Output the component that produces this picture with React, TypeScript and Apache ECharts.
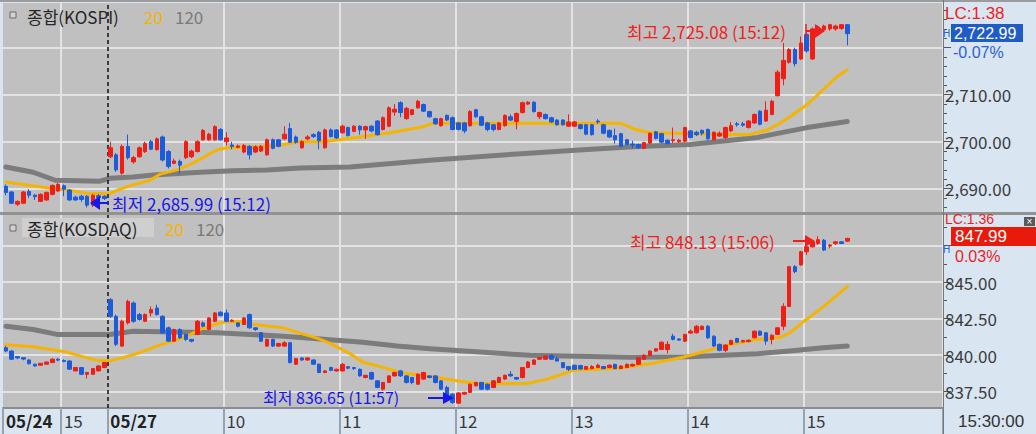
import React, { useEffect, useRef } from 'react';
import * as echarts from 'echarts';

const FONT = '"Noto Sans CJK KR", "Noto Sans", sans-serif';
const NUM_FONT = '"Liberation Sans", Arial, sans-serif';
const UP = '#f01e14';
const DOWN = '#1c5cdc';
const MA20_COLOR = '#f5b400';
const MA120_COLOR = '#7c7c7c';

// ---- categories (3-minute candles) ----
const DAYS = ['05/24', '05/27'];
const SESSION_START = ['14:30', '09:00'];
const EMPTY_SLOTS = 16;

function sessionTimes(start: string): string[] {
  const [h, m] = start.split(':').map(Number);
  const out: string[] = [];
  for (let t = h * 60 + m; t <= 15 * 60 + 18; t += 3) {
    out.push(`${String(Math.floor(t / 60)).padStart(2, '0')}:${String(t % 60).padStart(2, '0')}`);
  }
  out.push('15:30');
  return out;
}

// ---- KOSPI 3-min candles [open, close, low, high] ----
const KOSPI_OHLC: number[][] = [
  // 05/24
  [2690.5, 2689.2, 2688.6, 2690.9], [2689.3, 2686.9, 2686.7, 2689.5], [2686.7, 2687.3, 2686.3, 2687.5],
  [2686.9, 2689.3, 2686.8, 2689.5], [2689.4, 2688.6, 2688.0, 2689.9], [2688.6, 2688.3, 2687.6, 2688.9],
  [2687.3, 2688.8, 2687.2, 2689.0], [2687.6, 2689.2, 2687.4, 2689.4], [2688.8, 2690.7, 2688.6, 2690.9],
  [2689.5, 2690.9, 2689.3, 2691.2], [2690.6, 2689.9, 2688.4, 2690.9], [2689.7, 2687.6, 2687.4, 2689.9],
  [2688.2, 2687.6, 2687.4, 2688.5], [2688.4, 2687.7, 2687.2, 2688.7], [2688.4, 2686.5, 2685.99, 2688.6],
  [2686.5, 2688.6, 2686.1, 2688.9], [2688.5, 2688.1, 2687.9, 2688.9], [2688.4, 2687.9, 2687.6, 2688.6],
  // 05/27
  [2696.8, 2698.7, 2696.5, 2700.0], [2697.2, 2694.0, 2693.6, 2697.6], [2693.3, 2699.0, 2693.0, 2699.4],
  [2699.0, 2696.6, 2696.2, 2701.5], [2695.7, 2696.6, 2695.3, 2697.0], [2696.8, 2698.7, 2696.6, 2699.0],
  [2697.9, 2699.6, 2697.6, 2700.0], [2700.0, 2698.4, 2698.2, 2700.4], [2698.3, 2700.6, 2698.1, 2700.9],
  [2701.0, 2696.1, 2695.8, 2701.3],
  [2697.9, 2694.7, 2694.3, 2698.2], [2695.4, 2695.9, 2695.2, 2696.4], [2695.8, 2695.0, 2693.2, 2696.2],
  [2696.6, 2700.0, 2696.3, 2700.3], [2696.8, 2698.0, 2696.5, 2698.3], [2697.9, 2700.0, 2697.7, 2700.3],
  [2700.4, 2702.4, 2700.2, 2702.7], [2700.4, 2701.6, 2700.2, 2701.9], [2700.4, 2703.2, 2700.2, 2703.5],
  [2702.6, 2700.4, 2700.2, 2702.9],
  [2700.0, 2700.8, 2699.2, 2702.0], [2699.3, 2699.0, 2698.4, 2700.0], [2698.8, 2699.1, 2698.6, 2699.4],
  [2697.8, 2699.2, 2697.5, 2699.5], [2699.0, 2697.2, 2696.2, 2699.3], [2697.8, 2698.9, 2697.6, 2699.2],
  [2698.0, 2699.0, 2697.8, 2699.3], [2697.2, 2700.4, 2697.0, 2700.7], [2700.4, 2698.6, 2698.4, 2700.7],
  [2700.4, 2699.0, 2698.8, 2700.6],
  [2700.6, 2701.6, 2700.4, 2703.3], [2702.8, 2699.9, 2699.7, 2704.0], [2701.0, 2699.9, 2699.6, 2701.3],
  [2698.7, 2700.0, 2698.5, 2700.3], [2700.6, 2701.0, 2700.3, 2701.4], [2701.5, 2701.1, 2700.8, 2701.8],
  [2702.0, 2700.2, 2698.4, 2702.3], [2698.7, 2702.5, 2698.5, 2702.8], [2702.5, 2701.1, 2700.9, 2702.8],
  [2702.5, 2700.8, 2700.6, 2702.7],
  [2701.9, 2703.3, 2701.7, 2703.6], [2703.0, 2701.3, 2701.1, 2703.2], [2702.2, 2703.3, 2702.0, 2703.5],
  [2703.3, 2702.5, 2701.5, 2703.5], [2702.5, 2703.2, 2700.6, 2703.4], [2703.3, 2702.3, 2702.0, 2703.5],
  [2704.4, 2701.5, 2701.3, 2704.6], [2702.6, 2705.1, 2702.4, 2705.4], [2703.3, 2707.2, 2703.1, 2707.5],
  [2706.3, 2706.9, 2705.5, 2708.0],
  [2708.3, 2706.2, 2705.2, 2708.6], [2704.9, 2707.1, 2704.7, 2707.4], [2705.8, 2706.8, 2705.6, 2707.0],
  [2707.2, 2708.6, 2707.0, 2708.9], [2707.9, 2706.5, 2706.3, 2708.1], [2706.4, 2705.3, 2705.1, 2706.6],
  [2704.9, 2703.8, 2703.6, 2705.1], [2703.4, 2704.9, 2703.2, 2705.1], [2705.6, 2704.6, 2704.4, 2705.8],
  [2705.1, 2702.6, 2702.4, 2705.4],
  [2704.0, 2702.6, 2702.4, 2704.2], [2704.0, 2702.3, 2701.8, 2704.2], [2703.4, 2706.4, 2703.2, 2706.7],
  [2706.8, 2705.3, 2705.1, 2707.0], [2705.3, 2703.5, 2703.3, 2705.5], [2704.0, 2702.6, 2702.2, 2704.2],
  [2703.6, 2702.6, 2702.2, 2703.8], [2702.6, 2704.0, 2702.4, 2704.2], [2703.4, 2705.6, 2703.2, 2705.8],
  [2705.3, 2704.6, 2704.4, 2705.8],
  [2704.3, 2706.0, 2702.6, 2706.2], [2706.2, 2708.3, 2706.0, 2708.5], [2708.0, 2708.4, 2707.8, 2708.6],
  [2708.4, 2706.4, 2706.2, 2708.6], [2705.3, 2706.2, 2704.8, 2706.4], [2705.8, 2704.9, 2704.7, 2706.0],
  [2705.1, 2704.2, 2704.0, 2705.3], [2704.6, 2703.6, 2703.4, 2704.8], [2704.6, 2703.6, 2703.4, 2704.8],
  [2703.3, 2704.2, 2703.1, 2705.8],
  [2703.3, 2704.2, 2703.1, 2704.4], [2703.6, 2702.8, 2702.6, 2703.8], [2703.6, 2701.6, 2701.4, 2703.8],
  [2703.6, 2701.5, 2701.3, 2703.8], [2704.4, 2704.2, 2703.8, 2704.8], [2703.6, 2701.8, 2701.6, 2703.8],
  [2702.4, 2701.0, 2700.8, 2702.6], [2701.3, 2700.4, 2699.6, 2702.8], [2701.7, 2699.0, 2698.8, 2701.9],
  [2700.4, 2699.4, 2699.2, 2700.6],
  [2699.5, 2699.3, 2698.6, 2700.2], [2699.4, 2698.7, 2698.5, 2699.6], [2698.6, 2699.8, 2698.4, 2700.0],
  [2699.7, 2701.8, 2699.5, 2702.0], [2702.1, 2700.7, 2700.5, 2702.3], [2701.7, 2699.9, 2699.7, 2701.9],
  [2700.3, 2699.6, 2699.4, 2700.5], [2700.2, 2700.4, 2699.7, 2703.0], [2700.0, 2700.3, 2699.8, 2700.6],
  [2700.1, 2703.0, 2699.9, 2703.2],
  [2702.3, 2700.9, 2700.7, 2702.5], [2702.0, 2701.5, 2701.2, 2702.3], [2702.4, 2701.8, 2701.3, 2702.6],
  [2702.6, 2700.6, 2700.4, 2702.8], [2700.4, 2702.0, 2700.2, 2702.2], [2701.2, 2701.8, 2701.0, 2702.2],
  [2700.9, 2703.0, 2700.6, 2703.2], [2702.3, 2703.4, 2702.1, 2704.2], [2703.8, 2703.6, 2703.2, 2704.2],
  [2703.8, 2703.5, 2703.2, 2704.2],
  [2703.0, 2704.4, 2702.8, 2704.6], [2704.0, 2705.8, 2703.8, 2706.0], [2706.5, 2703.7, 2703.5, 2706.7],
  [2704.4, 2706.7, 2704.2, 2708.6], [2705.8, 2708.6, 2705.6, 2708.9], [2709.8, 2714.8, 2709.6, 2715.2],
  [2713.4, 2717.3, 2712.0, 2721.0], [2716.9, 2719.6, 2716.6, 2719.9], [2719.6, 2716.6, 2716.0, 2720.0],
  [2717.6, 2721.0, 2717.4, 2722.4],
  [2722.8, 2719.3, 2719.0, 2723.2], [2717.6, 2724.0, 2717.4, 2724.3], [2723.8, 2724.4, 2723.0, 2724.7],
  [2723.8, 2724.6, 2723.4, 2724.9], [2724.0, 2724.9, 2723.6, 2725.08], [2724.0, 2724.6, 2723.6, 2724.9],
  [2724.1, 2724.9, 2723.8, 2725.0], [2724.9, 2722.99, 2720.5, 2725.0],
];

// ---- KOSDAQ 3-min candles [open, close, low, high] ----
const KOSDAQ_OHLC: number[][] = [
  // 05/24
  [840.50, 840.27, 840.20, 840.62], [840.27, 839.71, 839.65, 840.35], [839.89, 839.80, 839.71, 839.92],
  [839.82, 839.72, 839.64, 839.85], [839.66, 839.40, 839.35, 839.70], [839.37, 839.25, 839.20, 839.40],
  [839.30, 839.43, 839.28, 839.45], [839.37, 839.52, 839.35, 839.55], [839.48, 839.71, 839.45, 839.78],
  [839.71, 839.65, 839.58, 839.78], [839.62, 839.56, 839.50, 839.70], [839.59, 839.03, 838.98, 839.63],
  [838.91, 839.14, 838.88, 839.18], [839.14, 838.68, 838.62, 839.18], [838.68, 838.80, 838.39, 838.84],
  [838.68, 839.07, 838.64, 839.10], [838.91, 839.25, 838.88, 839.30], [839.14, 839.48, 839.10, 839.52],
  // 05/27
  [843.79, 842.65, 842.54, 843.90], [842.65, 840.73, 840.61, 842.77], [840.61, 842.31, 840.55, 842.43],
  [842.20, 843.67, 842.09, 843.79], [843.56, 842.31, 842.20, 843.67], [842.77, 842.43, 842.36, 842.88],
  [842.31, 842.77, 842.25, 842.85], [842.88, 843.11, 842.65, 843.33], [843.22, 842.77, 842.70, 843.45],
  [842.65, 841.52, 841.45, 842.72],
  [841.86, 840.95, 840.90, 841.95], [840.95, 841.75, 840.90, 841.80], [841.75, 841.18, 841.10, 841.82],
  [841.41, 841.07, 840.95, 841.45], [841.07, 840.95, 840.86, 841.10], [841.41, 842.31, 841.35, 842.40],
  [842.20, 841.97, 841.90, 842.31], [841.75, 842.54, 841.70, 842.60], [842.31, 842.88, 842.25, 842.95],
  [842.93, 842.70, 842.65, 843.00],
  [842.88, 842.31, 842.25, 843.11], [842.31, 842.38, 842.25, 842.45], [842.20, 841.97, 841.90, 842.25],
  [842.09, 842.54, 842.05, 842.60], [842.77, 841.86, 841.80, 842.85], [841.86, 841.75, 841.65, 841.90],
  [841.52, 840.95, 840.90, 841.58], [840.61, 841.07, 840.55, 841.12], [841.07, 840.61, 840.55, 841.12],
  [840.61, 840.79, 840.55, 840.84],
  [840.61, 840.84, 840.55, 840.95], [840.84, 839.48, 839.42, 840.90], [839.37, 839.75, 839.32, 839.80],
  [839.80, 839.66, 839.60, 839.84], [839.66, 839.80, 839.60, 839.86], [839.66, 839.37, 839.32, 839.70],
  [839.37, 838.80, 838.75, 839.42], [838.80, 838.91, 838.75, 838.96], [839.14, 838.95, 838.90, 839.20],
  [838.91, 839.02, 838.86, 839.06],
  [838.91, 839.36, 838.86, 839.45], [839.20, 839.10, 839.02, 839.22], [839.14, 839.07, 838.98, 839.18],
  [839.02, 838.57, 838.52, 839.07], [838.46, 838.61, 838.40, 838.65], [838.80, 838.35, 838.30, 838.85],
  [838.23, 837.78, 837.72, 838.28], [837.66, 838.12, 837.55, 838.16], [838.12, 838.57, 838.08, 838.62],
  [838.57, 838.80, 838.52, 838.85],
  [838.91, 838.57, 838.50, 838.98], [838.57, 838.12, 838.05, 838.62], [838.46, 838.12, 838.00, 838.50],
  [838.00, 838.68, 837.95, 838.75], [838.35, 838.80, 838.30, 838.85], [838.57, 838.46, 838.40, 838.62],
  [838.57, 838.12, 838.05, 838.62], [838.23, 837.66, 837.60, 838.28], [837.78, 837.21, 837.15, 837.89],
  [837.32, 836.75, 836.65, 837.40],
  [836.70, 837.40, 836.66, 837.45], [837.32, 837.44, 837.28, 837.48], [837.44, 838.00, 837.40, 838.05],
  [837.89, 838.12, 837.85, 838.16], [838.12, 837.66, 837.60, 838.16], [838.00, 837.66, 837.58, 838.05],
  [837.78, 838.23, 837.72, 838.28], [838.12, 838.46, 838.08, 838.52], [838.35, 838.61, 838.30, 838.66],
  [838.68, 838.57, 838.50, 838.90],
  [838.46, 838.35, 838.30, 838.50], [838.46, 839.14, 838.40, 839.18], [839.14, 839.52, 839.10, 839.58],
  [839.36, 839.66, 839.32, 839.70], [839.71, 839.82, 839.68, 839.86], [839.71, 839.93, 839.68, 839.98],
  [839.98, 839.71, 839.66, 840.02], [839.75, 839.59, 839.55, 839.90], [839.48, 839.14, 839.10, 839.52],
  [839.21, 839.02, 838.90, 839.25],
  [839.30, 839.02, 838.98, 839.35], [839.28, 839.04, 838.98, 839.33], [839.02, 839.21, 838.98, 839.25],
  [839.07, 839.21, 839.02, 839.30], [839.14, 839.30, 839.10, 839.40], [839.21, 839.07, 839.02, 839.25],
  [839.14, 839.30, 839.10, 839.35], [839.36, 839.07, 839.02, 839.40], [839.07, 839.25, 839.02, 839.30],
  [839.14, 839.36, 839.10, 839.42],
  [839.25, 839.36, 839.20, 839.40], [839.36, 839.82, 839.32, 839.86], [839.71, 839.98, 839.66, 840.05],
  [839.98, 840.27, 839.94, 840.32], [840.27, 840.43, 840.22, 840.48], [840.38, 840.88, 840.34, 840.92],
  [840.38, 840.73, 840.10, 840.95], [841.29, 841.07, 841.00, 841.45], [841.10, 841.02, 840.98, 841.14],
  [840.95, 841.41, 840.90, 841.45],
  [841.50, 841.63, 841.45, 841.75], [841.52, 841.97, 841.48, 842.05], [841.75, 841.97, 841.70, 842.02],
  [841.97, 841.18, 841.10, 842.05], [841.29, 840.61, 840.55, 841.35], [840.73, 840.32, 840.25, 840.78],
  [840.32, 840.68, 840.20, 840.73], [840.73, 841.00, 840.68, 841.05], [841.13, 840.88, 840.84, 841.18],
  [840.90, 840.99, 840.85, 841.05],
  [840.92, 841.01, 840.87, 841.06], [841.18, 841.63, 841.14, 841.68], [841.63, 841.36, 841.32, 841.68],
  [841.52, 840.95, 840.70, 841.57], [841.07, 841.36, 840.73, 841.40], [841.41, 841.86, 841.36, 841.92],
  [841.97, 843.33, 841.70, 843.55], [843.33, 846.05, 843.28, 846.10], [846.05, 845.71, 845.60, 846.17],
  [846.17, 847.07, 846.12, 847.12],
  [847.07, 847.41, 846.85, 847.53], [847.41, 847.75, 847.35, 847.86], [847.64, 847.90, 847.55, 848.13],
  [847.86, 847.19, 847.12, 847.95], [847.46, 847.53, 847.30, 847.60], [847.64, 847.75, 847.53, 847.80],
  [847.75, 847.64, 847.60, 847.80], [847.80, 847.99, 847.75, 848.02],
];

// ---- moving averages, read at [candle index, value] ----
const KOSPI_MA20: number[][] = [
  [0, 2691.4], [2.4, 2691.0], [7.6, 2690.1], [10.5, 2689.7], [14, 2689.0], [18, 2689.0], [19.7, 2689.9],
  [21.9, 2690.8], [24.8, 2691.8], [26.6, 2693.1], [29.5, 2694.0], [31.7, 2695.1], [34, 2696.6],
  [36.4, 2698.3], [38.1, 2698.7], [44.3, 2698.9], [47.8, 2699.4], [50.7, 2700.0], [54.7, 2700.0],
  [60.5, 2700.9], [66.2, 2701.9], [71.9, 2703.2], [73.5, 2703.9], [106, 2703.9], [108.5, 2702.6],
  [111, 2701.9], [128, 2701.5], [131.2, 2702.5], [133.4, 2703.9], [135.1, 2705.3], [138.1, 2707.9],
  [140.8, 2711.0], [143.2, 2713.8], [145, 2715.3],
];
const KOSPI_MA120: number[][] = [
  [0, 2694.6], [4.7, 2693.5], [8.5, 2691.8], [16.2, 2691.6], [17.9, 2692.2], [21.9, 2692.5],
  [25.4, 2692.9], [33.5, 2693.5], [39.1, 2693.8], [45, 2694.0], [50.7, 2694.4], [59.3, 2694.6],
  [73.6, 2696.1], [88.1, 2697.4], [99.5, 2698.3], [108.1, 2698.9], [117.9, 2699.4], [129.5, 2700.9],
  [138.1, 2703.0], [145, 2704.3],
];
const KOSDAQ_MA20: number[][] = [
  [0, 840.7], [4.7, 840.57], [10.5, 840.2], [14, 839.8], [16.2, 839.6], [17.9, 839.6], [20.2, 839.82],
  [23.1, 840.16], [26, 840.61], [28.8, 840.95], [31.2, 841.29], [33.5, 841.75], [36.4, 842.15],
  [38.3, 842.3], [40.3, 842.3], [42.6, 842.1], [47.8, 841.86], [50.7, 841.5], [53.6, 841.16],
  [55.9, 840.8], [59.3, 840.1], [61.5, 839.5], [65, 839.15], [67.9, 838.8], [70.9, 838.65],
  [76, 838.35], [78.3, 838.2], [81.2, 838.05], [89.8, 838.05], [93.3, 838.35], [96, 838.7],
  [97.7, 838.95], [105.3, 839.1], [111, 839.4], [116.7, 839.85], [119.6, 840.15], [123.6, 840.61],
  [129.5, 841.07], [133.4, 841.2], [135.1, 841.52], [137.7, 842.35], [140.8, 843.28], [145, 844.69],
];
const KOSDAQ_MA120: number[][] = [
  [0, 841.97], [4.7, 841.75], [8.8, 841.41], [17.9, 841.41], [21.9, 841.63], [36.4, 841.52],
  [42.1, 841.41], [47.8, 841.29], [53.6, 841.11], [61.5, 840.88], [67.4, 840.61], [73.1, 840.43],
  [81.7, 840.2], [90.3, 839.98], [96, 839.93], [107.6, 839.85], [117.9, 839.88], [129.5, 840.09],
  [135.1, 840.27], [140.8, 840.5], [145, 840.61],
];

// ---- price axes ----
const KOSPI_RANGE = [2685.04, 2729.51];
const KOSDAQ_RANGE = [836.37, 849.59];
const KOSPI_GRID_TICKS = [2690, 2700, 2710, 2720];
const KOSPI_LABEL_TICKS = [2690, 2700, 2710];
const KOSPI_MINOR_TICKS = [2686, 2688, 2692, 2694, 2696, 2698, 2702, 2704, 2706, 2708, 2712, 2714, 2716, 2718, 2722, 2724, 2726, 2728];
const KOSDAQ_GRID_TICKS = [837.5, 840, 842.5, 845, 847.5];
const KOSDAQ_LABEL_TICKS = [837.5, 840, 842.5, 845];
const KOSDAQ_MINOR_TICKS = [838.75, 841.25, 843.75, 846.25, 848.75];

// ---- status texts ----
const KOSPI_LC = 'LC:1.38';
const KOSPI_CHANGE = '-0.07%';
const KOSDAQ_LC = 'LC:1.36';
const KOSDAQ_CHANGE = '0.03%';
const LAST_TIME = '15:30:00';

const fmt = (v: number) => v.toLocaleString('en-US', { minimumFractionDigits: 2, maximumFractionDigits: 2 });

const DAY_TIMES = SESSION_START.map(sessionTimes);
const CAT_DAY: string[] = [];
const CAT_TIME: string[] = [];
DAYS.forEach((d, i) => DAY_TIMES[i].forEach((t) => { CAT_DAY.push(d); CAT_TIME.push(t); }));
for (let i = 0; i < EMPTY_SLOTS; i++) { CAT_DAY.push(''); CAT_TIME.push(''); }
const CATEGORIES = CAT_DAY.map((d, i) => (d ? `${d} ${CAT_TIME[i]}` : `~${i}`));
const DAY_START = new Set<number>();
DAYS.forEach((d) => DAY_START.add(CAT_DAY.indexOf(d)));
const HOUR_MARK = new Set<number>();
CAT_TIME.forEach((t, i) => { if (t.endsWith(':00') && !DAY_START.has(i)) HOUR_MARK.add(i); });

function extremes(ohlc: number[][]) {
  let hi = 0, lo = 0;
  ohlc.forEach((c, i) => {
    if (c[3] > ohlc[hi][3]) hi = i;
    if (c[2] < ohlc[lo][2]) lo = i;
  });
  return {
    high: `최고 ${fmt(ohlc[hi][3])} (${CAT_TIME[hi]})`,
    low: `최저 ${fmt(ohlc[lo][2])} (${CAT_TIME[lo]})`,
    last: fmt(ohlc[ohlc.length - 1][1]),
  };
}

function txt(x: number, y: number, text: string, fill: string, size = 17, extra: any = {}) {
  return {
    type: 'text', x, y, z: 60,
    style: {
      text, fill, fontSize: size, fontFamily: FONT,
      verticalAlign: 'middle', textVerticalAlign: 'middle', align: 'left', textAlign: 'left', ...extra,
    },
  };
}
function tri(points: number[][], fill: string) {
  return { type: 'polygon', z: 60, shape: { points }, style: { fill } };
}
function seg(x1: number, y1: number, x2: number, y2: number, stroke: string, w = 2) {
  return { type: 'line', z: 60, shape: { x1, y1, x2, y2 }, style: { stroke, lineWidth: w } };
}

export default function App() {
  const ref = useRef<HTMLDivElement>(null);

  useEffect(() => {
    if (!ref.current) return;
    const chart = echarts.init(ref.current, undefined, { renderer: 'svg' });
    const kp = extremes(KOSPI_OHLC);
    const kq = extremes(KOSDAQ_OHLC);
    const RED = '#f01e1e';
    const BLUE = '#1616ee';
    const NUM = { fontFamily: NUM_FONT };

    const priceAxis = (grid: number, range: number[], gridTicks: number[], labelTicks: number[]) => ({
      type: 'value', gridIndex: grid, position: 'right', min: range[0], max: range[1],
      axisLine: { show: true, onZero: false, lineStyle: { color: '#6e6e6e', width: 1 } },
      axisTick: { show: true, length: 8, customValues: gridTicks, lineStyle: { color: '#555', width: 1 } },
      axisLabel: {
        show: true, customValues: labelTicks, margin: 2, color: '#3c3c3c', fontSize: 17, fontFamily: FONT,
        formatter: (v: number) => fmt(v),
      },
      splitLine: { show: true, lineStyle: { color: '#e3e3e3', width: 2 } },
    });
    const minorAxis = (grid: number, range: number[], ticks: number[]) => ({
      type: 'value', gridIndex: grid, position: 'right', min: range[0], max: range[1],
      axisLine: { show: false, onZero: false },
      axisTick: { show: true, length: 4, customValues: ticks, lineStyle: { color: '#555', width: 1 } },
      axisLabel: { show: false },
      splitLine: { show: false },
    });
    const splitLine = {
      show: true, interval: (i: number) => HOUR_MARK.has(i),
      lineStyle: { color: '#e3e3e3', width: 2 },
    };
    const candle = (x: number, y: number, data: number[][]) => ({
      type: 'candlestick', xAxisIndex: x, yAxisIndex: y, data, barWidth: 4, z: 5,
      itemStyle: { color: UP, color0: DOWN, borderColor: UP, borderColor0: DOWN, borderWidth: 1 },
    });
    const ma = (x: number, y: number, data: number[][], color: string, width: number, z: number, dash = false) => ({
      type: 'line', xAxisIndex: x, yAxisIndex: y, data, showSymbol: false, symbol: 'none', z,
      lineStyle: { color, width, cap: 'round', join: 'round' },
      markLine: dash ? {
        silent: true, symbol: 'none', label: { show: false },
        lineStyle: { type: [4, 3], color: '#111', width: 1.5 },
        data: [{ xAxis: DAY_TIMES[0].length - 0.5 }],
      } : undefined,
    });

    const option: any = {
      animation: false,
      backgroundColor: '#d9e5f1',
      textStyle: { fontFamily: FONT },
      grid: [
        { left: 3, top: 3, width: 940, height: 209, show: true, backgroundColor: '#c0c0c0', borderWidth: 0 },
        { left: 3, top: 215, width: 940, height: 193, show: true, backgroundColor: '#c0c0c0', borderWidth: 0 },
      ],
      xAxis: [
        {
          type: 'category', gridIndex: 0, data: CATEGORIES,
          axisLine: { show: false, onZero: false }, axisTick: { show: false }, axisLabel: { show: false },
          splitLine,
        },
        {
          type: 'category', gridIndex: 1, data: CATEGORIES,
          axisLine: { show: true, onZero: false, lineStyle: { color: '#8c8c8c', width: 2 } },
          axisTick: {
            show: true, length: 26, interval: (i: number) => HOUR_MARK.has(i) || DAY_START.has(i),
            lineStyle: { color: '#98a2ad', width: 2 },
          },
          axisLabel: {
            show: true, interval: (i: number) => HOUR_MARK.has(i) || DAY_START.has(i),
            align: 'left', margin: 4, fontSize: 17, color: '#3a3a3a', fontFamily: FONT,
            formatter: (_v: string, i: number) =>
              DAY_START.has(i) ? `{b|${CAT_DAY[i]}}` : String(Number(CAT_TIME[i].slice(0, 2))),
            rich: { b: { fontWeight: 'bold', fontSize: 17, color: '#222', fontFamily: FONT } },
          },
          splitLine,
        },
        { type: 'value', gridIndex: 0, min: -0.5, max: CATEGORIES.length - 0.5, show: false },
        { type: 'value', gridIndex: 1, min: -0.5, max: CATEGORIES.length - 0.5, show: false },
      ],
      yAxis: [
        priceAxis(0, KOSPI_RANGE, KOSPI_GRID_TICKS, KOSPI_LABEL_TICKS),
        priceAxis(1, KOSDAQ_RANGE, KOSDAQ_GRID_TICKS, KOSDAQ_LABEL_TICKS),
        minorAxis(0, KOSPI_RANGE, KOSPI_MINOR_TICKS),
        minorAxis(1, KOSDAQ_RANGE, KOSDAQ_MINOR_TICKS),
      ],
      series: [
        ma(2, 0, KOSPI_MA120, MA120_COLOR, 5, 2),
        ma(2, 0, KOSPI_MA20, MA20_COLOR, 3, 3, true),
        candle(0, 0, KOSPI_OHLC),
        ma(3, 1, KOSDAQ_MA120, MA120_COLOR, 5, 2),
        ma(3, 1, KOSDAQ_MA20, MA20_COLOR, 3, 3, true),
        candle(1, 1, KOSDAQ_OHLC),
      ],
      graphic: [
        { type: 'rect', z: 40, shape: { x: 0, y: 0, width: 1036, height: 2 }, style: { fill: '#9c9c9c' } },
        { type: 'rect', z: 40, shape: { x: 0, y: 212, width: 1036, height: 3 }, style: { fill: '#929292' } },
        { type: 'line', z: 40, shape: { x1: 943.5, y1: 0, x2: 943.5, y2: 434 }, style: { stroke: '#777', lineWidth: 1 } },
        // headers
        { type: 'rect', z: 55, shape: { x: 10, y: 12, width: 6, height: 6 }, style: { fill: '#d2d2d2', stroke: '#6a6a6a', lineWidth: 1 } },
        txt(27, 16, '종합(KOSPI)', '#262626'),
        txt(144, 16, '20', MA20_COLOR),
        txt(175, 16, '120', '#7a7a7a'),
        { type: 'rect', z: 54, shape: { x: 22, y: 218, width: 132, height: 19 }, style: { fill: '#cfcfcf' } },
        { type: 'rect', z: 55, shape: { x: 10, y: 225, width: 6, height: 6 }, style: { fill: '#d2d2d2', stroke: '#6a6a6a', lineWidth: 1 } },
        txt(27, 228, '종합(KOSDAQ)', '#262626'),
        txt(165, 228, '20', MA20_COLOR),
        txt(196, 228, '120', '#7a7a7a'),
        // KOSPI low / high annotations
        txt(112, 203, kp.low, BLUE),
        tri([[90, 203], [100, 196], [100, 210]], BLUE),
        seg(100, 203, 109, 203, BLUE),
        txt(627, 31, kp.high, RED),
        seg(806, 24, 806, 37, RED, 1.5),
        seg(806, 31, 816, 31, RED),
        tri([[815, 24], [825, 31], [815, 38]], RED),
        // KOSDAQ annotations
        txt(630, 241, kq.high, RED),
        seg(793, 241, 806, 241, RED),
        tri([[805, 235], [815, 241], [805, 247]], RED),
        txt(263, 397, kq.low, BLUE, 16),
        seg(428, 398, 444, 398, BLUE),
        tri([[443, 392], [454, 398], [443, 404]], BLUE),
        // right panel, KOSPI
        txt(945, 13, KOSPI_LC, RED, 17, NUM),
        txt(943, 33, 'H', '#2b62d6', 10, NUM),
        { type: 'rect', z: 58, shape: { x: 951, y: 24, width: 72, height: 18 }, style: { fill: '#1f5cc8' } },
        txt(954, 33, kp.last, '#ffffff', 16, NUM),
        txt(953, 52, KOSPI_CHANGE, '#2b62d6', 16, NUM),
        // right panel, KOSDAQ
        txt(945, 219, KOSDAQ_LC, RED, 14, NUM),
        txt(943, 249, 'H', '#2b62d6', 10, NUM),
        { type: 'rect', z: 58, shape: { x: 951, y: 227, width: 85, height: 19 }, style: { fill: '#e81a0c' } },
        txt(955, 236.5, kq.last, '#ffffff', 17, NUM),
        txt(955, 256, KOSDAQ_CHANGE, RED, 16, NUM),
        { type: 'rect', z: 59, shape: { x: 1024, y: 217, width: 11, height: 9 }, style: { fill: '#5a5a5a' } },
        txt(1029.5, 221.5, '×', '#ffffff', 10, { align: 'center', textAlign: 'center', fontFamily: NUM_FONT }),
        txt(958, 421, LAST_TIME, '#333333', 17, NUM),
      ],
    };
    chart.setOption(option);
    return () => chart.dispose();
  }, []);

  return <div ref={ref} style={{ position: 'fixed', left: 0, top: 0, width: 1036, height: 434 }} />;
}
